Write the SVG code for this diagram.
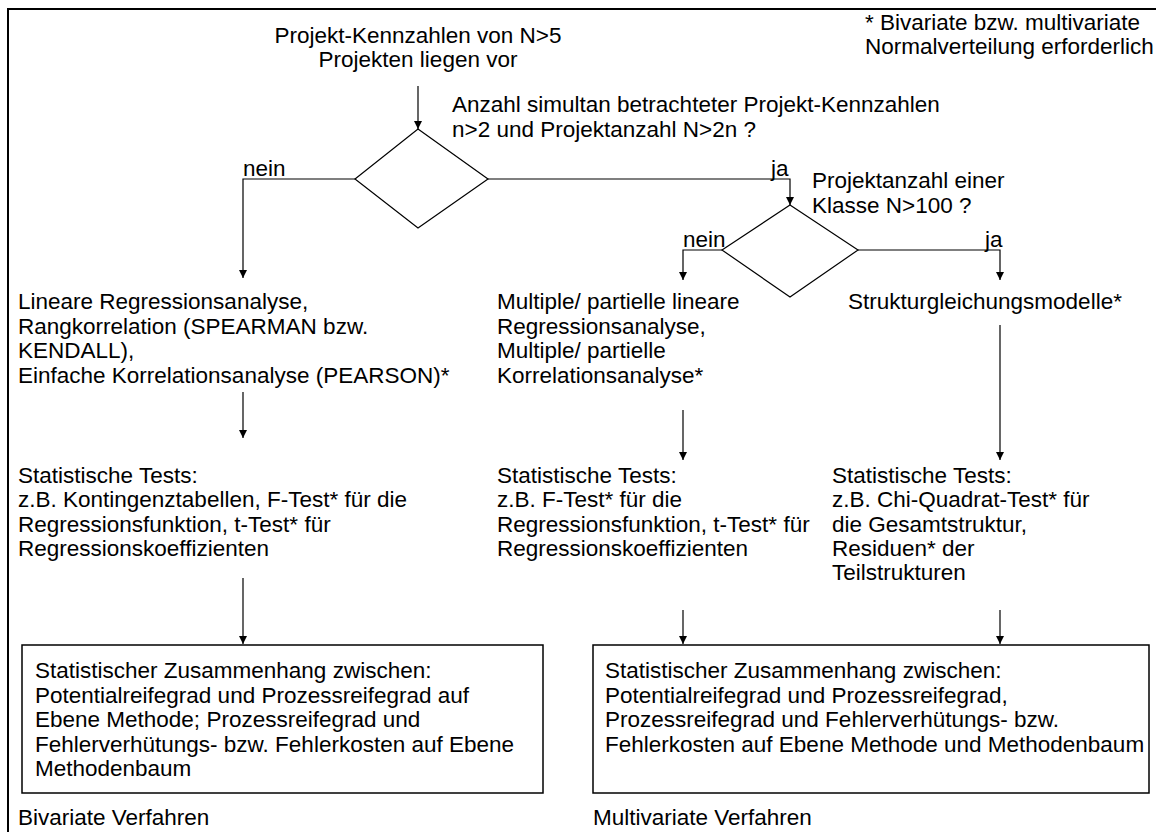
<svg xmlns="http://www.w3.org/2000/svg" width="1156" height="832" viewBox="0 0 1156 832">
  <style>
    text { font-family: "Liberation Sans", Arial, sans-serif; font-size: 22.5px; fill: #000; }
    .ln { fill: none; stroke: #000; stroke-width: 1.2; }
    .box { fill: #fff; stroke: #000; stroke-width: 1.5; }
  </style>
  <defs>
    <marker id="arr" viewBox="0 0 8 10" refX="8" refY="5" markerWidth="8" markerHeight="10" orient="auto" markerUnits="userSpaceOnUse">
      <path d="M0,1 L8,5 L0,9 z" fill="#000"/>
    </marker>
  </defs>
  <rect width="1156" height="832" fill="#fff"/>
  <!-- outer frame (open at right and bottom) -->
  <path d="M8,832 V9 H1156" fill="none" stroke="#000" stroke-width="2"/>

  <g id="connectors">
    <line class="ln" x1="418" y1="86" x2="418" y2="129" marker-end="url(#arr)"/>
    <polyline class="ln" points="355,179 243,179 243,278" marker-end="url(#arr)"/>
    <polyline class="ln" points="488,179 790,179 790,205" marker-end="url(#arr)"/>
    <polyline class="ln" points="722,250 683,250 683,280" marker-end="url(#arr)"/>
    <polyline class="ln" points="858,250 1000,250 1000,280" marker-end="url(#arr)"/>
    <line class="ln" x1="243" y1="392" x2="243" y2="438" marker-end="url(#arr)"/>
    <line class="ln" x1="683" y1="410" x2="683" y2="460" marker-end="url(#arr)"/>
    <line class="ln" x1="1000" y1="325" x2="1000" y2="460" marker-end="url(#arr)"/>
    <line class="ln" x1="243" y1="578" x2="243" y2="644" marker-end="url(#arr)"/>
    <line class="ln" x1="683" y1="610" x2="683" y2="644" marker-end="url(#arr)"/>
    <line class="ln" x1="1000" y1="610" x2="1000" y2="644" marker-end="url(#arr)"/>
  </g>

  <g id="start">
    <text x="418" y="43" text-anchor="middle">Projekt-Kennzahlen von N&gt;5</text>
    <text x="418" y="67" text-anchor="middle">Projekten liegen vor</text>
  </g>

  <g id="note">
    <text x="865" y="30">* Bivariate bzw. multivariate</text>
    <text x="865" y="54">Normalverteilung erforderlich</text>
  </g>

  <g id="decision1">
    <polygon class="ln" points="418,129 488,179 418,228 355,179"/>
    <text x="452" y="112">Anzahl simultan betrachteter Projekt-Kennzahlen</text>
    <text x="452" y="137">n&gt;2 und Projektanzahl N&gt;2n ?</text>
    <text x="243" y="176">nein</text>
    <text x="771" y="176">ja</text>
  </g>

  <g id="decision2">
    <polygon class="ln" points="790,205 858,250 790,297 722,250"/>
    <text x="812" y="188">Projektanzahl einer</text>
    <text x="812" y="213">Klasse N&gt;100 ?</text>
    <text x="683" y="247">nein</text>
    <text x="985" y="247">ja</text>
  </g>

  <g id="bivariate-methods">
    <text x="18" y="309">Lineare Regressionsanalyse,</text>
    <text x="18" y="334">Rangkorrelation (SPEARMAN bzw.</text>
    <text x="18" y="358">KENDALL),</text>
    <text x="18" y="383">Einfache Korrelationsanalyse (PEARSON)*</text>
  </g>

  <g id="multiple-methods">
    <text x="497" y="309">Multiple/ partielle lineare</text>
    <text x="497" y="334">Regressionsanalyse,</text>
    <text x="497" y="358">Multiple/ partielle</text>
    <text x="497" y="383">Korrelationsanalyse*</text>
  </g>

  <g id="structural-models">
    <text x="848" y="309">Strukturgleichungsmodelle*</text>
  </g>

  <g id="bivariate-tests">
    <text x="18" y="483">Statistische Tests:</text>
    <text x="18" y="507">z.B. Kontingenztabellen, F-Test* für die</text>
    <text x="18" y="532">Regressionsfunktion, t-Test* für</text>
    <text x="18" y="556">Regressionskoeffizienten</text>
  </g>

  <g id="multiple-tests">
    <text x="497" y="483">Statistische Tests:</text>
    <text x="497" y="507">z.B. F-Test* für die</text>
    <text x="497" y="532">Regressionsfunktion, t-Test* für</text>
    <text x="497" y="556">Regressionskoeffizienten</text>
  </g>

  <g id="structural-tests">
    <text x="832" y="483">Statistische Tests:</text>
    <text x="832" y="507">z.B. Chi-Quadrat-Test* für</text>
    <text x="832" y="532">die Gesamtstruktur,</text>
    <text x="832" y="556">Residuen* der</text>
    <text x="832" y="580">Teilstrukturen</text>
  </g>

  <g id="bivariate-result">
    <rect class="box" x="22" y="645" width="521" height="148"/>
    <text x="35" y="678">Statistischer Zusammenhang zwischen:</text>
    <text x="35" y="703">Potentialreifegrad und Prozessreifegrad auf</text>
    <text x="35" y="727">Ebene Methode; Prozessreifegrad und</text>
    <text x="35" y="752">Fehlerverhütungs- bzw. Fehlerkosten auf Ebene</text>
    <text x="35" y="776">Methodenbaum</text>
  </g>

  <g id="multivariate-result">
    <rect class="box" x="593" y="645" width="556" height="148"/>
    <text x="605" y="678">Statistischer Zusammenhang zwischen:</text>
    <text x="605" y="703">Potentialreifegrad und Prozessreifegrad,</text>
    <text x="605" y="727">Prozessreifegrad und Fehlerverhütungs- bzw.</text>
    <text x="605" y="752">Fehlerkosten auf Ebene Methode und Methodenbaum</text>
  </g>

  <g id="footers">
    <text x="18" y="825">Bivariate Verfahren</text>
    <text x="593" y="825">Multivariate Verfahren</text>
  </g>
</svg>
